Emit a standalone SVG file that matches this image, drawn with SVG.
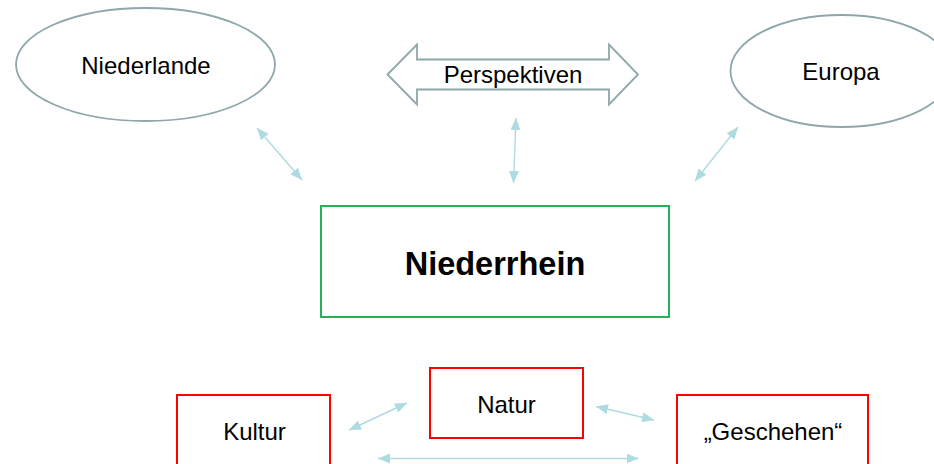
<svg xmlns="http://www.w3.org/2000/svg" width="934" height="464" viewBox="0 0 934 464">
<style>
text{font-family:"Liberation Sans",Arial,sans-serif;fill:#000;text-anchor:middle}
.t{font-size:24px}
.b{font-size:32.5px;font-weight:bold}
.ell{fill:#fff;stroke:#8ea7ab;stroke-width:1.8}
.red{fill:#fff;stroke:#f00;stroke-width:2}
.grn{fill:#fff;stroke:#22b357;stroke-width:2}
.c{stroke:#aedbe0;stroke-width:1.4;fill:none;marker-start:url(#ah);marker-end:url(#ah)}
</style>
<defs>
<marker id="ah" markerUnits="userSpaceOnUse" markerWidth="13" markerHeight="11" refX="12" refY="5" orient="auto-start-reverse" viewBox="0 0 13 11">
<path d="M0,0 L12,5 L0,10 z" fill="#aedbe0"/>
</marker>
</defs>
<rect width="934" height="464" fill="#fff"/>
<g id="niederlande">
<ellipse class="ell" cx="145.5" cy="64.5" rx="129.5" ry="56.5"/>
<text class="t" x="146" y="74">Niederlande</text>
</g>
<g id="perspektiven">
<path d="M387.5,74.5 L417,44.5 L417,59.5 L609,59.5 L609,44.5 L638,74.5 L609,104.5 L609,89.5 L417,89.5 L417,104.5 Z" fill="#fff" stroke="#8ea7ab" stroke-width="1.8" stroke-linejoin="miter"/>
<text class="t" x="513" y="83">Perspektiven</text>
</g>
<g id="europa">
<ellipse class="ell" cx="841.5" cy="71" rx="111" ry="56"/>
<text class="t" x="841" y="80">Europa</text>
</g>
<g id="niederrhein">
<rect class="grn" x="321" y="206" width="348" height="111"/>
<text class="b" x="495" y="275">Niederrhein</text>
</g>
<g id="kultur">
<rect class="red" x="177" y="395" width="153" height="90"/>
<text class="t" x="254.5" y="440">Kultur</text>
</g>
<g id="natur">
<rect class="red" x="430" y="368" width="153" height="70"/>
<text class="t" x="506.5" y="413">Natur</text>
</g>
<g id="geschehen">
<rect class="red" x="677" y="395" width="191" height="90"/>
<text class="t" x="773" y="440">„Geschehen“</text>
</g>
<g id="connectors">
<line class="c" x1="257" y1="128" x2="302" y2="180"/>
<line class="c" x1="516" y1="118" x2="513.5" y2="183"/>
<line class="c" x1="738" y1="127" x2="695" y2="181"/>
<line class="c" x1="349" y1="430" x2="407" y2="403"/>
<line class="c" x1="596" y1="406.5" x2="654" y2="420"/>
<line class="c" x1="378" y1="458.5" x2="638.5" y2="458.5"/>
</g>
</svg>
